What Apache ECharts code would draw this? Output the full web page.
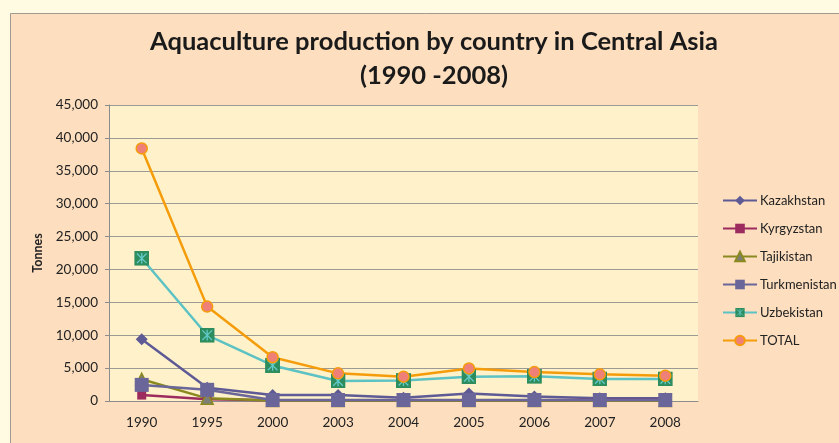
<!DOCTYPE html>
<html>
<head>
<meta charset="utf-8">
<script src="https://cdn.jsdelivr.net/npm/echarts@6/dist/echarts.min.js"></script>
<style>
  html, body { margin: 0; padding: 0; background: #FFFBE3; }
  #chart { width: 839px; height: 443px; }
</style>
</head>
<body>
<div id="chart"></div>
<script>
var years = ['1990', '1995', '2000', '2003', '2004', '2005', '2006', '2007', '2008']

var kazakhstan   = [9400, 2000, 900, 900, 500, 1150, 700, 400, 400]
var kyrgyzstan   = [900, 250, 100, 100, 100, 100, 100, 150, 150]
var tajikistan   = [3300, 400, 80, 80, 60, 60, 60, 60, 60]
var turkmenistan = [2450, 1700, 150, 150, 150, 150, 150, 150, 150]
var uzbekistan   = [21700, 10000, 5400, 3050, 3100, 3700, 3750, 3350, 3350]
var total        = [38400, 14350, 6650, 4200, 3700, 4950, 4400, 4050, 3850]

var font = 'Lato'

// green square with the cyan star on it
var uzbIcon = 'image://data:image/svg+xml;utf8,' + encodeURIComponent(
    "<svg xmlns='http://www.w3.org/2000/svg' width='14' height='14'>" +
    "<rect width='14' height='14' fill='#2E8D5E'/>" +
    "<path d='M2.5 2.5L11.5 11.5M11.5 2.5L2.5 11.5M7 2V12' stroke='#62CACA' stroke-width='1.2'/></svg>")

function line(name, data, color, symbol, size, fill, border) {
    return {
        name: name,
        type: 'line',
        data: data,
        symbol: symbol,
        symbolSize: size,
        showAllSymbol: true,
        lineStyle: { color: color, width: 2.5 },
        itemStyle: { color: fill || color, borderColor: border || fill || color, borderWidth: border ? 1.5 : 0 },
        emphasis: { disabled: true },
        animation: false
    }
}

var myChart = echarts.init(document.getElementById('chart'))

myChart.setOption({
    backgroundColor: '#FFFBE3',
    graphic: [
        {
            type: 'rect',
            z: -10,
            shape: { x: 10.5, y: 13.5, width: 860, height: 460 },
            style: { fill: '#FDDEBE', stroke: '#A09A90', lineWidth: 1 }
        }
    ],
    title: {
        text: 'Aquaculture production by country in Central Asia\n(1990 -2008)',
        left: 429,
        textAlign: 'center',
        top: 20,
        textStyle: {
            fontFamily: font,
            fontSize: 25.5,
            fontWeight: 'bold',
            color: '#1a1a1a',
            lineHeight: 34
        }
    },
    legend: {
        orient: 'vertical',
        left: 722,
        top: 194,
        padding: 0,
        itemWidth: 34,
        itemHeight: 12,
        itemGap: 15,
        textStyle: { fontFamily: font, fontSize: 13, color: '#222', padding: [0, 0, 0, -2] },
        data: ['Kazakhstan', 'Kyrgyzstan', 'Tajikistan', 'Turkmenistan', 'Uzbekistan', 'TOTAL']
    },
    grid: {
        left: 109,
        right: 141,
        top: 105,
        bottom: 42,
        show: true,
        backgroundColor: '#FFF1C9',
        borderWidth: 0
    },
    xAxis: {
        type: 'category',
        data: years,
        boundaryGap: true,
        axisLine: { lineStyle: { color: '#8c8c8c', width: 1 } },
        axisTick: { show: false },
        axisLabel: { fontFamily: font, fontSize: 13.5, color: '#222', margin: 15 }
    },
    yAxis: {
        type: 'value',
        min: 0,
        max: 45000,
        interval: 5000,
        name: 'Tonnes',
        nameLocation: 'middle',
        nameGap: 60,
        nameTextStyle: { fontFamily: font, fontSize: 12.5, fontWeight: 'bold', color: '#222' },
        axisLine: { show: true, lineStyle: { color: '#8c8c8c', width: 1 } },
        axisTick: { show: true, length: 4, lineStyle: { color: '#8c8c8c' } },
        splitLine: { lineStyle: { color: '#9c9a94', width: 1.2 } },
        axisLabel: {
            fontFamily: font,
            fontSize: 13.5,
            color: '#222',
            margin: 11,
            formatter: function (v) { return v.toLocaleString('en-US') }
        }
    },
    series: [
        line('Kazakhstan', kazakhstan, '#5E5A96', 'diamond', 12),
        line('Kyrgyzstan', kyrgyzstan, '#9C2B5E', 'rect', 9),
        line('Tajikistan', tajikistan, '#8A8A20', 'triangle', 12, '#7E7E78', '#8A8A20'),
        line('Uzbekistan', uzbekistan, '#5CC2C4', uzbIcon, 15),
        line('TOTAL', total, '#F59C0B', 'circle', 11, '#EE8078', '#F59C0B'),
        line('Turkmenistan', turkmenistan, '#6A6699', 'rect', 14)
    ]
})
</script>
</body>
</html>
